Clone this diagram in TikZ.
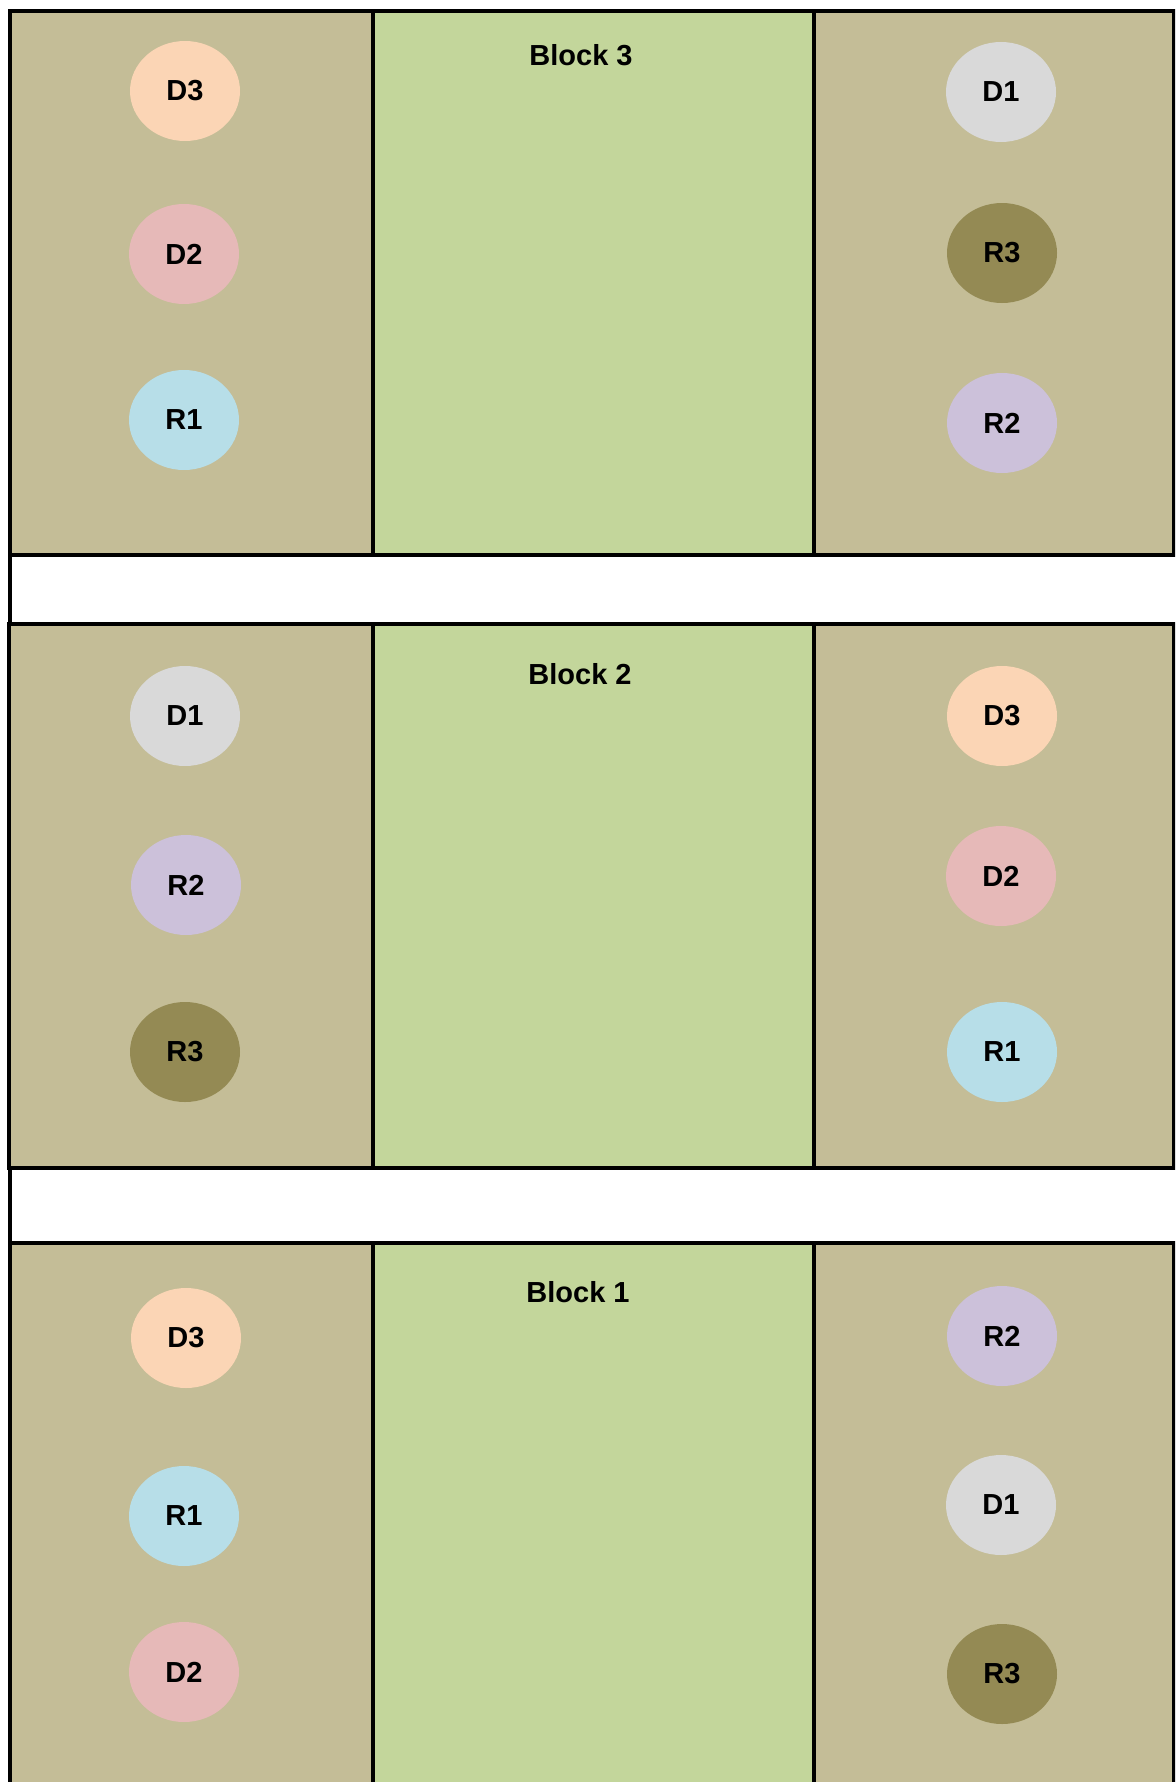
\documentclass[tikz,border=0pt]{standalone}
\usepackage{fontspec}
\setmainfont{Liberation Sans}
\usetikzlibrary{shapes.geometric}

\definecolor{border}{HTML}{C4BD97}
\definecolor{alley}{HTML}{C3D69B}
\definecolor{cD1}{HTML}{D9D9D9}
\definecolor{cD2}{HTML}{E6B9B8}
\definecolor{cD3}{HTML}{FBD5B5}
\definecolor{cR1}{HTML}{B7DEE8}
\definecolor{cR2}{HTML}{CCC1DA}
\definecolor{cR3}{HTML}{948A54}

\begin{document}
\begin{tikzpicture}[x=0.5pt, y=-0.5pt,
    frame/.style={draw=black, line width=2.3pt},
    plot/.style={ellipse, minimum width=55pt, minimum height=50pt, inner sep=0pt,
      font=\fontsize{14.5}{14.5}\selectfont\bfseries},
    title/.style={font=\fontsize{14.5}{14.5}\selectfont\bfseries}]
				\useasboundingbox (0,0) rectangle (1175,1782);
				\clip (0,0) rectangle (1175,1782);
				% block 3
				\draw[frame, fill=border] (10,11) rectangle (373,555);
				\draw[frame, fill=alley] (373,11) rectangle (814,555);
				\draw[frame, fill=border] (814,11) rectangle (1174,555);
				\node[title] (T3) at (581,55) {Block 3};
				\node[plot, fill=cD3] (L3a) at (185,91) {D3};
				\node[plot, fill=cD2] (L3b) at (184,254) {D2};
				\node[plot, fill=cR1] (L3c) at (184,420) {R1};
				\node[plot, fill=cD1] (R3a) at (1001,92) {D1};
				\node[plot, fill=cR3] (R3b) at (1002,253) {R3};
				\node[plot, fill=cR2] (R3c) at (1002,423) {R2};
				% gap
				\draw[frame] (10,555) -- (10,624);
				% block 2
				\draw[frame, fill=border] (9,624) rectangle (373,1168);
				\draw[frame, fill=alley] (373,624) rectangle (814,1168);
				\draw[frame, fill=border] (814,624) rectangle (1174,1168);
				\node[title] (T2) at (580,674) {Block 2};
				\node[plot, fill=cD1] (L2a) at (185,716) {D1};
				\node[plot, fill=cR2] (L2b) at (186,885) {R2};
				\node[plot, fill=cR3] (L2c) at (185,1052) {R3};
				\node[plot, fill=cD3] (R2a) at (1002,716) {D3};
				\node[plot, fill=cD2] (R2b) at (1001,876) {D2};
				\node[plot, fill=cR1] (R2c) at (1002,1052) {R1};
				% gap
				\draw[frame] (10,1168) -- (10,1243);
				% block 1
				\draw[frame, fill=border] (10,1243) rectangle (373,1800);
				\draw[frame, fill=alley] (373,1243) rectangle (814,1800);
				\draw[frame, fill=border] (814,1243) rectangle (1174,1800);
				\node[title] (T1) at (578,1292) {Block 1};
				\node[plot, fill=cD3] (L1a) at (186,1338) {D3};
				\node[plot, fill=cR1] (L1b) at (184,1516) {R1};
				\node[plot, fill=cD2] (L1c) at (184,1672) {D2};
				\node[plot, fill=cR2] (R1a) at (1002,1336) {R2};
				\node[plot, fill=cD1] (R1b) at (1001,1505) {D1};
				\node[plot, fill=cR3] (R1c) at (1002,1674) {R3};
			\end{tikzpicture}
\end{document}
